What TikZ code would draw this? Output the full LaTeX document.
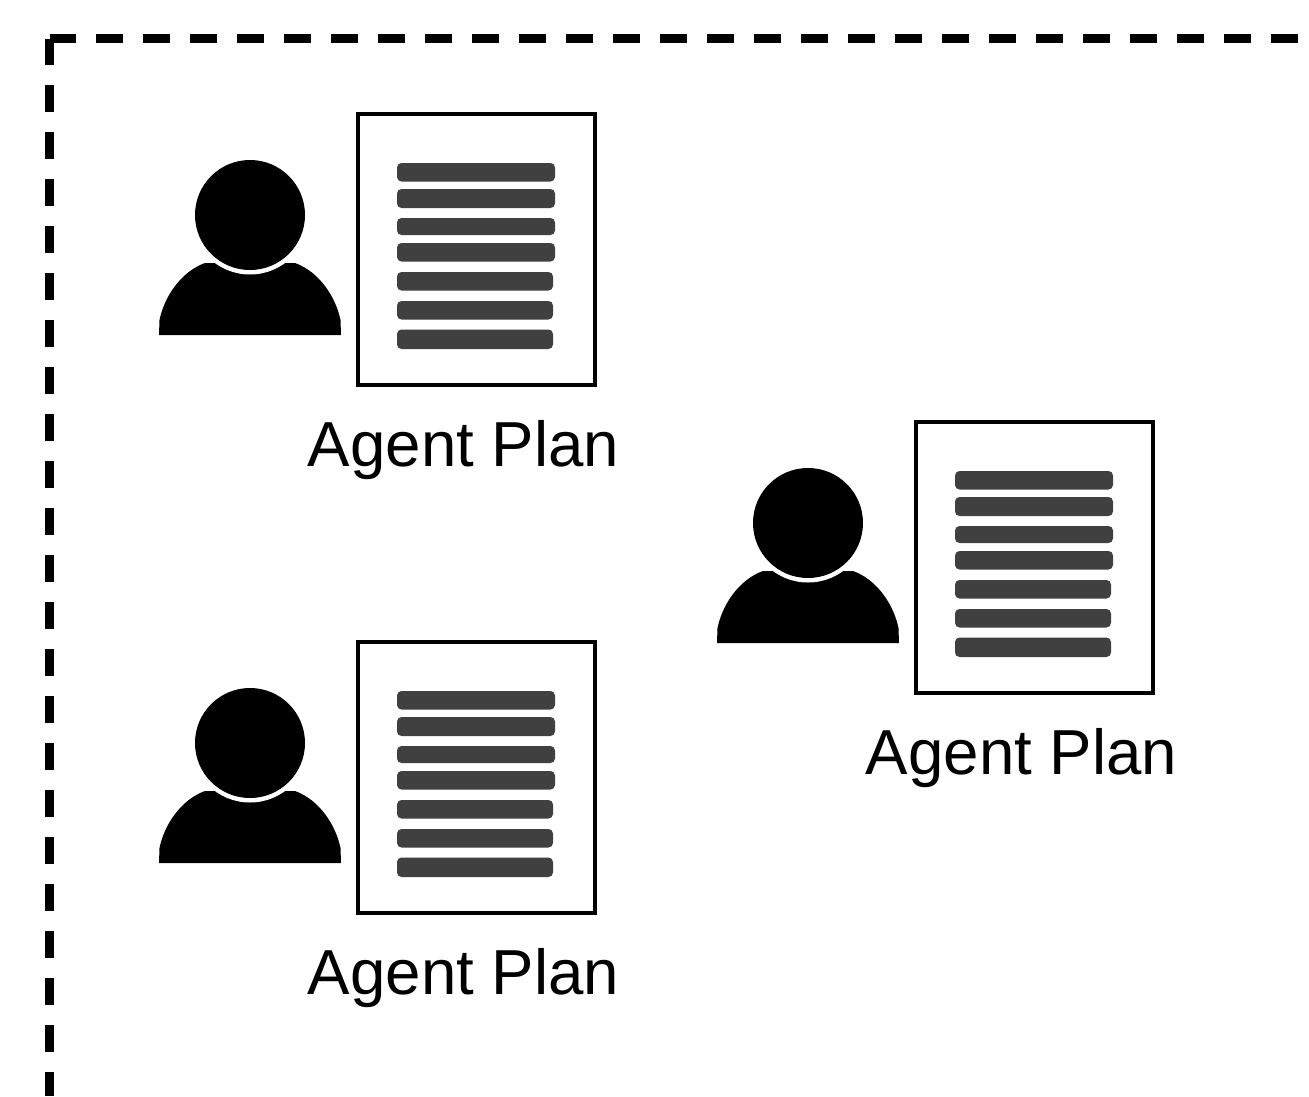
\documentclass[tikz,border=0pt]{standalone}
\usepackage{fontspec}
\setmainfont{Liberation Sans}
\tikzset{
  frameline/.style={line width=0.18cm,dash pattern=on 0.54cm off 0.40cm},
  planbox/.style={draw,line width=0.085cm,fill=white},
  planbar/.style={fill=barcol,rounded corners=0.09cm},
  planlabel/.style={font=\fontsize{36.2}{40}\selectfont,anchor=base,inner sep=0pt}
}
\definecolor{barcol}{HTML}{404040}
\begin{document}
\begin{tikzpicture}[x=0.02cm,y=-0.02cm]
\useasboundingbox(0,0)rectangle(1309,1096);
\coordinate(corner)at(49.5,38.5);
\coordinate(frameE)at(1309,38.5);
\coordinate(frameS)at(49.5,1096);
\draw[frameline](corner)--(frameE);
\draw[frameline](corner)--(frameS);
\foreach \kx/\ky/\kid in {0/0/a,558/308/b,0/528/c}{
  \begin{scope}[shift={(\kx,\ky)}]
  % person
  \fill(159,335)--(159.5,320)..controls(164,298)and(180,272)..(205,263)--(295,263)..controls(320,272)and(336,298)..(340.5,320)--(341,335)--cycle;
  \fill[white](250,215)circle[radius=59.5];
  \fill(250,215)circle[radius=55];
  % plan sheet
  \draw[planbox](358,114)rectangle(595,385);
  \foreach \ytop/\ybot/\xr in {163/181.5/555,189/208/555,218/235/555,243/261.5/555,272/290.5/553,301/319.5/553,329.5/349/553}{
    \fill[planbar](397,\ytop)rectangle(\xr,\ybot);
  }
  \node[planlabel](lb\kid)at(463.5,466.5){Agent Plan};
  \end{scope}
}
\end{tikzpicture}
\end{document}
